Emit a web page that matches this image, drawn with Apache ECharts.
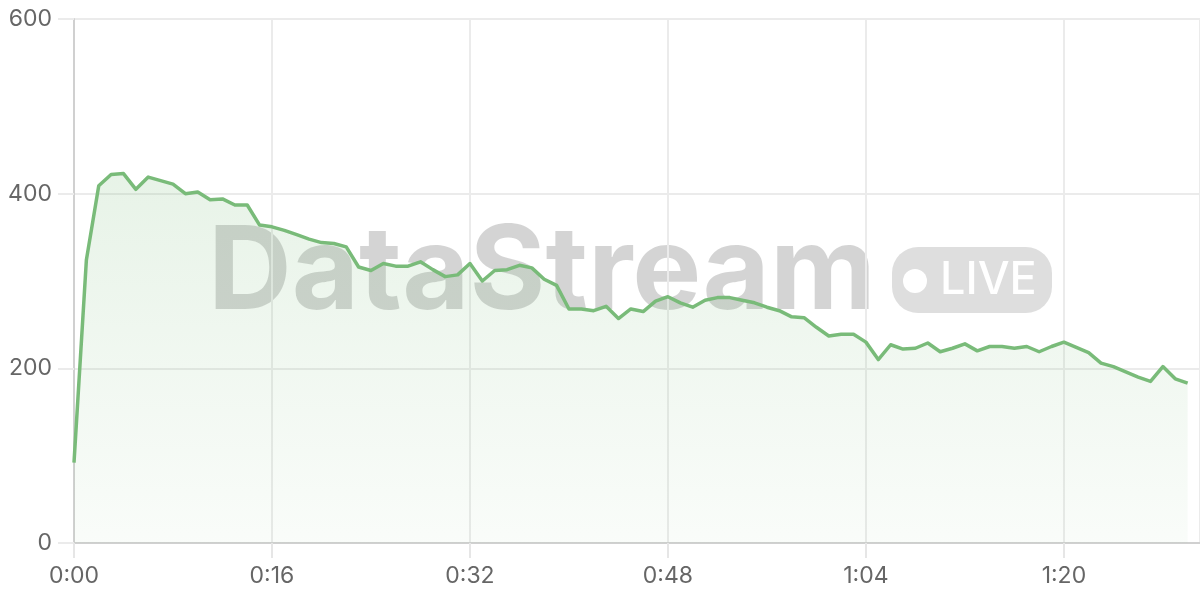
<!DOCTYPE html>
<html>
<head>
<meta charset="utf-8">
<script src="https://cdn.jsdelivr.net/npm/echarts@6/dist/echarts.min.js"></script>
<style>
html,body{margin:0;padding:0;background:#fff;}
#chart{width:1200px;height:600px;}
</style>
</head>
<body>
<div id="chart"></div>
<script>
// Time in seconds since start
const seconds = [];
for (let i = 0; i <= 90; i++) seconds.push(i);
const values = [
  92, 324, 409, 422, 423, 405, 419, 415, 411, 400,
  402, 393, 394, 387, 387, 364, 362, 358, 353, 348,
  344, 343, 339, 316, 312, 320, 317, 317, 322, 313,
  305, 307, 320, 300, 312, 313, 318, 315, 302, 295,
  268, 268, 266, 271, 257, 268, 265, 277, 282, 275,
  270, 278, 281, 281, 278, 275, 270, 266, 259, 258,
  247, 237, 239, 239, 230, 210, 227, 222, 223, 229,
  219, 223, 228, 220, 225, 225, 223, 225, 219, 225,
  230, 224, 218, 206, 202, 196, 190, 185, 202, 188,
  183
];
const yTicks = [0, 200, 400, 600];
const xTickStep = 16;
const watermarkText = 'DataStream';
const badgeText = 'LIVE';

const fmt = s => Math.floor(s / 60) + ':' + String(Math.round(s % 60)).padStart(2, '0');

const chart = echarts.init(document.getElementById('chart'), null, {renderer: 'canvas'});
const FONT = 'Inter, "Noto Sans", sans-serif';
chart.setOption({
  animation: false,
  backgroundColor: '#ffffff',
  grid: {left: 74, right: 0, top: 19, bottom: 57, containLabel: false},
  graphic: [
    {
      type: 'text', z: -10, left: 208, top: 216,
      style: {text: watermarkText, font: 'bold 116px Inter, sans-serif', fill: 'rgba(0,0,0,0.17)'}
    },
    {
      type: 'rect', z: -10, shape: {x: 892, y: 247, width: 160, height: 66, r: 26},
      style: {fill: 'rgba(0,0,0,0.13)'}
    },
    {
      type: 'circle', z: -9, shape: {cx: 915, cy: 281, r: 12},
      style: {fill: '#ffffff'}
    },
    {
      type: 'text', z: -9, left: 940, top: 258,
      style: {text: badgeText, font: '500 45px Inter, sans-serif', fill: '#ffffff'}
    }
  ],
  xAxis: {
    type: 'value', min: 0, max: 91, interval: xTickStep,
    axisLine: {show: true, lineStyle: {color: '#d0d0d0', width: 2}},
    axisTick: {show: true, length: 15, lineStyle: {color: '#e6e6e6', width: 2}},
    splitLine: {show: true, lineStyle: {color: '#ebebeb', width: 2}},
    axisLabel: {
      color: '#666', fontSize: 23, fontFamily: FONT, margin: 22, showMaxLabel: false,
      formatter: v => (v % xTickStep === 0 ? fmt(v) : '')
    }
  },
  yAxis: {
    type: 'value', min: 0, max: 600, interval: 200,
    axisLine: {show: true, lineStyle: {color: '#d0d0d0', width: 2}},
    axisTick: {show: true, length: 16, lineStyle: {color: '#ebebeb', width: 2}},
    splitLine: {show: true, lineStyle: {color: '#ebebeb', width: 2}},
    axisLabel: {color: '#666', fontSize: 23, fontFamily: FONT, margin: 22,
      formatter: v => (yTicks.includes(v) ? String(v) : '')}
  },
  series: [{
    type: 'line',
    data: seconds.map((s, i) => [s, values[i]]),
    showSymbol: false,
    symbol: 'none',
    lineStyle: {color: '#79bb79', width: 3.5, join: 'round'},
    itemStyle: {color: '#79bb79'},
    areaStyle: {
      color: new echarts.graphic.LinearGradient(0, 0, 0, 1, [
        {offset: 0, color: 'rgba(121,187,121,0.25)'},
        {offset: 1, color: 'rgba(121,187,121,0.06)'}
      ])
    },
    z: 3
  }]
});
</script>
</body>
</html>
